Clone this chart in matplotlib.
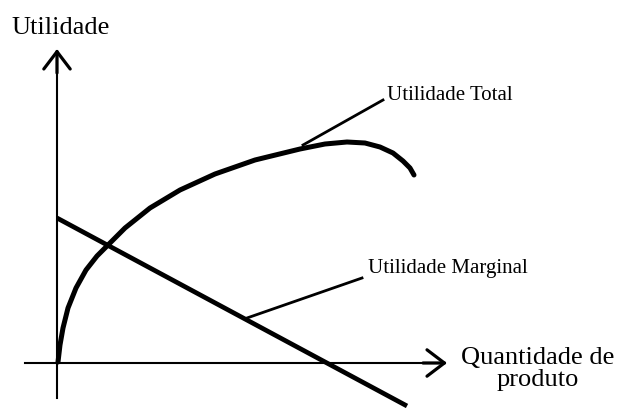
import matplotlib
matplotlib.use("Agg")
import matplotlib.pyplot as plt

plt.rcParams['font.family'] = ['Liberation Serif', 'DejaVu Serif']

# utilidade total (quantidade, utilidade)
tu_q = [1, 3, 6, 11, 19, 29, 40, 51, 68, 93, 123, 158, 198, 243, 268, 290, 308, 323, 336, 346, 353, 357]
tu_u = [1, 18, 35, 55, 75, 93, 107, 118, 135, 155, 173, 189, 203, 214, 219, 221, 220, 216, 210, 202, 195, 188]

# utilidade marginal (reta)
um_q = [0, 350]
um_u = [145, -43]

labels = ["Utilidade", "Utilidade Total", "Utilidade Marginal", "Quantidade de\nproduto"]

fig = plt.figure(figsize=(6.2, 4.08), dpi=100)
ax = fig.add_axes([0, 0, 1, 1])
ax.set_xlim(-57, 563)
ax.set_ylim(-45, 363)
ax.axis('off')

# eixos
ax.plot([0, 0], [-35, 312], color='black', lw=1.5)
ax.plot([-32, 388], [0, 0], color='black', lw=1.5)
# pontas de seta abertas
head = dict(arrowstyle='->,head_length=1.25,head_width=0.95', lw=2.3, color='black',
            shrinkA=0, shrinkB=0)
ax.annotate('', xy=(0, 314), xytext=(0, 290), arrowprops=head)
ax.annotate('', xy=(390, 0), xytext=(366, 0), arrowprops=head)

ax.plot(tu_q, tu_u, color='black', lw=3.6, solid_capstyle='round', solid_joinstyle='round')
ax.plot(um_q, um_u, color='black', lw=3.4, solid_capstyle='butt')

# linhas indicadoras
ax.plot([246, 326], [218, 263], color='black', lw=2)
ax.plot([190, 305], [45, 85], color='black', lw=2)

ax.text(4, 335, labels[0], fontsize=19, ha='center', va='center')
ax.text(330, 268, labels[1], fontsize=15, ha='left', va='center')
ax.text(311, 95, labels[2], fontsize=15, ha='left', va='center')
ax.text(481, -6, labels[3], fontsize=19, ha='center', va='center', linespacing=0.95)

fig.savefig('out.png', dpi=100)
